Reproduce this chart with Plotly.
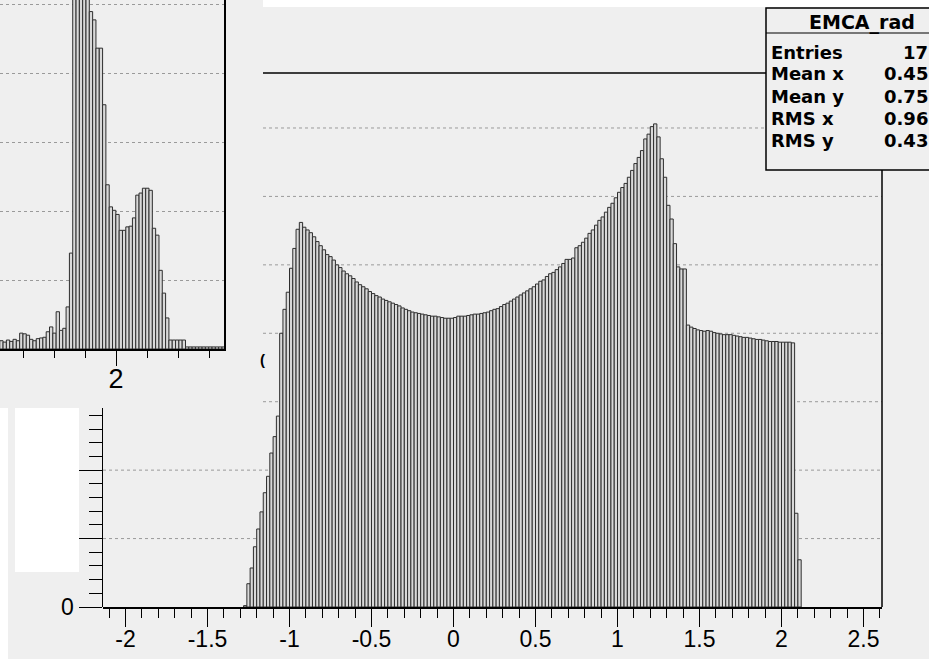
import numpy as np
import plotly.graph_objects as go

# ---------------- data ----------------
# main histogram EMCA_rad : fixed-width bins starting at main_first_edge
main_first_edge = -1.28
main_bin_width = 0.02
main_counts = [
    2, 34, 57, 88, 114, 139, 167, 191, 225, 249,
    279, 400, 435, 460, 495, 524, 552, 562, 555, 551,
    547, 541, 534, 528, 522, 515, 512, 507, 500, 496,
    491, 487, 484, 480, 475, 471, 468, 465, 461, 458,
    455, 453, 450, 448, 446, 444, 442, 440, 437, 435,
    433, 431, 430, 429, 428, 427, 426, 425, 425, 424,
    423, 422, 422, 422, 423, 425, 425, 425, 426, 427,
    428, 428, 429, 430, 431, 433, 435, 436, 439, 442,
    444, 447, 450, 453, 456, 459, 462, 465, 468, 472,
    476, 478, 483, 487, 489, 493, 497, 502, 508, 508,
    510, 525, 528, 533, 539, 546, 551, 558, 565, 570,
    577, 584, 590, 598, 606, 613, 619, 628, 638, 648,
    657, 667, 684, 691, 702, 706, 687, 655, 628, 587,
    567, 531, 497, 494, 494, 412, 409, 407, 405, 404,
    403, 404, 403, 401, 400, 399, 398, 398, 398, 397,
    396, 395, 394, 394, 393, 392, 391, 391, 390, 389,
    388, 388, 388, 387, 387, 387, 387, 386, 137, 69,
]

# inset histogram (partly visible, top-left)
inset_first_edge = 1.625
inset_bin_width = 0.0107
inset_counts = [
    12, 10, 13, 11, 14, 12, 23, 22, 20, 14,
    12, 15, 16, 17, 25, 32, 23, 54, 27, 30,
    61, 139, 540, 610, 640, 600, 560, 489, 477, 436,
    436, 354, 238, 206, 201, 195, 172, 172, 177, 178,
    190, 223, 226, 233, 233, 230, 175, 165, 114, 81,
    45, 13, 13, 13, 13, 13, 3, 3, 3, 3,
    3, 3, 3, 3, 3, 3, 3, 3,
]

x_tick_values = [-2, -1.5, -1, -0.5, 0, 0.5, 1, 1.5, 2, 2.5]
x_tick_labels = ["-2", "-1.5", "-1", "-0.5", "0", "0.5", "1", "1.5", "2", "2.5"]
y_tick_values = [0, 100, 200]
y_tick_labels = ["0", "", ""]
grid_values = [100, 200, 300, 400, 500, 600, 700]
inset_tick_values = [2]
inset_tick_labels = ["2"]

stats_title = "EMCA_rad"
stats_names = ["Entries", "Mean x", "Mean y", "RMS x", "RMS y"]
stats_values = ["17", "0.45", "0.75", "0.96", "0.43"]

# ---------------- geometry (pixels of the 929x659 reference) ----------------
W, H = 929, 659
RENDER_H = 672          # the page is photographed slightly squeezed vertically
BG = "#efefef"
CLEAR = "rgba(0,0,0,0)"


def fx(p):
    return p / W


def fy(p):
    return 1 - p / H


main_x_range = [(103 - 453.5) / 164, (882 - 453.5) / 164]
px_per_unit_y = 0.6843
main_y_range = [0, (607 - 73) / px_per_unit_y]
axis_piece_range = [0, (607 - 408) / px_per_unit_y]
inset_x_range = [2 - 116 / 310, 2 + (224 - 116) / 310]
inset_y_range = [0, 349 / 0.69]

main_centers = main_first_edge + main_bin_width * (np.arange(len(main_counts)) + 0.5)
inset_centers = inset_first_edge + inset_bin_width * (np.arange(len(inset_counts)) + 0.5)

bar_style = dict(color="#d9d9d9", line=dict(color="#2e2e2e", width=1))

fig = go.Figure()
fig.add_trace(go.Bar(
    x=main_centers, y=main_counts, width=main_bin_width, marker=bar_style,
    xaxis="x", yaxis="y", showlegend=False, hoverinfo="skip",
))
fig.add_trace(go.Bar(
    x=inset_centers, y=inset_counts, width=inset_bin_width, marker=bar_style,
    xaxis="x2", yaxis="y2", showlegend=False, hoverinfo="skip",
))
# activates the visible y-axis piece
fig.add_trace(go.Scatter(x=[None], y=[None], xaxis="x", yaxis="y3",
                         showlegend=False, hoverinfo="skip"))

tickfont = dict(family="Liberation Sans", size=23, color="black")

fig.update_layout(
    width=W, height=RENDER_H,
    margin=dict(l=0, r=0, t=0, b=0),
    paper_bgcolor=BG, plot_bgcolor=CLEAR,
    bargap=0, showlegend=False,
    xaxis=dict(
        domain=[fx(103), fx(882)], range=main_x_range, anchor="y",
        tickmode="array", tickvals=x_tick_values, ticktext=x_tick_labels,
        ticks="outside", ticklen=18, tickwidth=1, tickcolor="black",
        ticklabelstandoff=-7,
        minor=dict(tickmode="linear", tick0=0, dtick=0.1, ticklen=9,
                   tickcolor="black", tickwidth=1, showgrid=False),
        showline=True, linecolor="black", linewidth=1.5,
        showgrid=False, zeroline=False, tickfont=tickfont,
    ),
    yaxis=dict(
        domain=[fy(607), fy(73)], range=main_y_range, anchor="x",
        visible=False, showgrid=False, zeroline=False,
    ),
    yaxis3=dict(
        domain=[fy(607), fy(408)], range=axis_piece_range, anchor="x",
        tickmode="array", tickvals=y_tick_values, ticktext=y_tick_labels,
        ticks="outside", ticklen=23, tickwidth=1, tickcolor="black",
        minor=dict(tickmode="linear", tick0=0, dtick=20, ticklen=13,
                   tickcolor="black", tickwidth=1, showgrid=False),
        showline=True, linecolor="black", linewidth=1.5,
        showgrid=False, zeroline=False, tickfont=tickfont,
    ),
    xaxis2=dict(
        domain=[0, fx(224)], range=inset_x_range, anchor="y2",
        tickmode="array", tickvals=inset_tick_values, ticktext=inset_tick_labels,
        ticks="outside", ticklen=15, tickwidth=1, tickcolor="black",
        ticklabelstandoff=-10,
        minor=dict(tickmode="linear", tick0=0, dtick=0.1, ticklen=7,
                   tickcolor="black", tickwidth=1, showgrid=False),
        showline=True, linecolor="black", linewidth=1.5,
        showgrid=False, zeroline=False,
        tickfont=dict(family="Liberation Sans", size=27, color="black"),
    ),
    yaxis2=dict(
        domain=[fy(349), 1], range=inset_y_range, anchor="x2", side="right",
        showline=True, linecolor="black", linewidth=1.5,
        ticks="", showticklabels=False, dtick=100, tick0=0,
        showgrid=True, gridcolor="#9a9a9a", griddash="dot", gridwidth=1,
        zeroline=False,
    ),
)

shapes = []
x_cover = (263 - 453.5) / 164
for v in grid_values:
    x_start = main_x_range[0] if v < 300 else x_cover
    shapes.append(dict(type="line", xref="x", yref="y", x0=x_start, x1=main_x_range[1],
                       y0=v, y1=v, layer="below",
                       line=dict(color="#9a9a9a", width=1, dash="dot")))
# frame pieces of the main pad
shapes.append(dict(type="line", xref="paper", yref="paper", x0=fx(263), x1=fx(766),
                   y0=fy(73), y1=fy(73), line=dict(color="black", width=1.5)))
shapes.append(dict(type="line", xref="paper", yref="paper", x0=fx(882), x1=fx(882),
                   y0=fy(170), y1=fy(607), line=dict(color="black", width=1.5)))
# white patches of the screenshot
for (a, b, c, d) in [(0, 408, 8, 659), (15, 408, 79, 572), (263, 0, 929, 7)]:
    shapes.append(dict(type="rect", xref="paper", yref="paper", x0=fx(a), x1=fx(c),
                       y0=fy(d), y1=fy(b), fillcolor="white", line=dict(width=0),
                       layer="above"))
# stats box
shapes.append(dict(type="rect", xref="paper", yref="paper", x0=fx(766), x1=fx(940),
                   y0=fy(170), y1=fy(8), fillcolor=BG,
                   line=dict(color="black", width=1.5), layer="above"))
shapes.append(dict(type="line", xref="paper", yref="paper", x0=fx(766), x1=1,
                   y0=fy(33), y1=fy(33), line=dict(color="black", width=1.2),
                   layer="above"))
fig.update_layout(shapes=shapes)

annotations = []
sfont = dict(family="DejaVu Sans", size=18, color="black")
annotations.append(dict(xref="paper", yref="paper", x=fx(862), y=fy(23),
                        text="<b>%s</b>" % stats_title, showarrow=False,
                        xanchor="center", yanchor="middle",
                        font=dict(family="DejaVu Sans", size=19, color="black")))
row_y = [52, 74, 96, 118, 140]
for name, val, yy in zip(stats_names, stats_values, row_y):
    annotations.append(dict(xref="paper", yref="paper", x=fx(769), y=fy(yy),
                            text="<b>%s</b>" % name, showarrow=False,
                            xanchor="left", yanchor="middle", font=sfont))
    annotations.append(dict(xref="paper", yref="paper", x=fx(929), y=fy(yy),
                            text="<b>%s</b>" % val, showarrow=False,
                            xanchor="right", yanchor="middle", font=sfont,
                            borderpad=0))
annotations.append(dict(xref="paper", yref="paper", x=fx(262), y=fy(360),
                        text="<b>(</b>", showarrow=False, xanchor="center",
                        yanchor="middle",
                        font=dict(family="Liberation Sans", size=15, color="black")))
fig.update_layout(annotations=annotations)

fig.write_html(
    "out.html",
    config={"displayModeBar": False, "staticPlot": True},
    post_script=(
        "var d=document.getElementById('{plot_id}');"
        "d.style.position='fixed';d.style.left='0';d.style.top='0';"
        "document.documentElement.style.overflow='hidden';"
        "document.body.style.margin='0';document.body.style.overflow='hidden';"
    ),
)
